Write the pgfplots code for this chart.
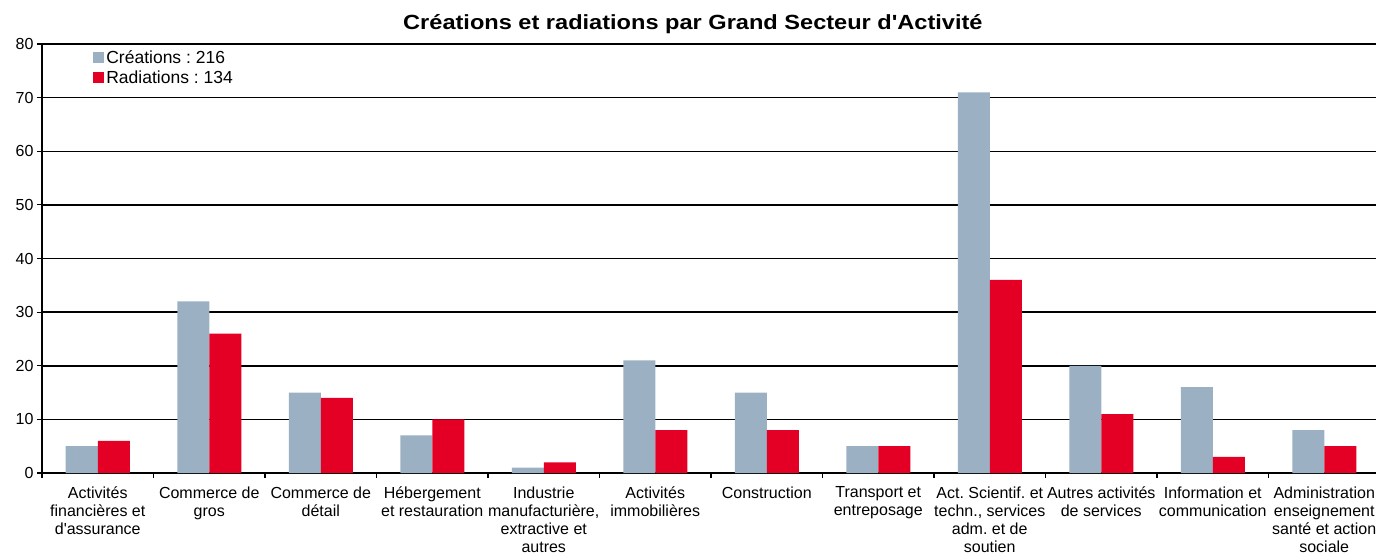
\documentclass[border=0pt]{standalone}
\usepackage{fontspec}
\usepackage{graphicx}
\setmainfont{Liberation Sans}[Ligatures=TeXOff]
\usepackage{pgfplots}
\pgfplotsset{compat=1.18}
\definecolor{creat}{RGB}{155,176,194}
\definecolor{radi}{RGB}{227,0,36}
\frenchspacing
\begin{document}
\begin{tikzpicture}
\path[use as bounding box, clip] (-42pt,-81pt) rectangle (1334pt,473pt);
\begin{axis}[
  scale only axis, width=1338pt, height=429pt,
  clip=false,
  ymin=0, ymax=80, ytick={0,10,...,80},
  xmin=-0.5, xmax=11.5,
  xtick={0,...,11},
  xticklabels={
    {Activités\\financières et\\d'assurance},
    {Commerce de\\gros},
    {Commerce de\\détail},
    {Hébergement\\et restauration},
    {Industrie\\manufacturière,\\extractive et\\autres},
    {Activités\\immobilières},
    {Construction},
    {Transport et\\entreposage},
    {Act. Scientif. et\\techn., services\\adm. et de\\soutien},
    {Autres activités\\de services},
    {Information et\\communication},
    {Administration\\enseignement\\santé et action\\sociale}},
  major x tick style={draw=none},
  minor xtick={-0.5,0.5,...,11.5},
  ybar=0pt, bar width=32pt,
  ymajorgrids, grid style={black, line width=1.5pt},
  axis x line*=bottom, axis y line*=left,
  axis line style={black, line width=1.5pt, -},
  tick style={black, line width=1.2pt},
  tick align=outside,
  major tick length=5pt, minor tick length=5pt,
  xticklabel style={align=center, font=\fontsize{16}{18.2}\selectfont, anchor=north, yshift=-5pt},
  yticklabel style={font=\fontsize{16}{18}\selectfont},
  /pgf/number format/assume math mode=true,
  legend cell align=left,
  legend style={at={(rel axis cs:0.036,0.995)}, anchor=north west, draw=none, fill=none,
    font=\fontsize{17.5}{20}\selectfont, row sep=2pt},
  legend image code/.code={\path[#1] (0pt,-5pt) rectangle (11pt,6pt);},
]
\addplot[fill=creat, draw=none] coordinates {(0,5) (1,32) (2,15) (3,7) (4,1) (5,21) (6,15) (7,5) (8,71) (9,20) (10,16) (11,8)};
\addplot[fill=radi, draw=none] coordinates {(0,6) (1,26) (2,14) (3,10) (4,2) (5,8) (6,8) (7,5) (8,36) (9,11) (10,3) (11,5)};
\legend{Créations : 216, Radiations : 134}
\node[font=\bfseries\fontsize{20.5}{22}\selectfont] at (rel axis cs:0.4865,1) [yshift=20pt] {\scalebox{1.15}[1]{Créations et radiations par Grand Secteur d'Activité}};
\end{axis}
\end{tikzpicture}
\end{document}
